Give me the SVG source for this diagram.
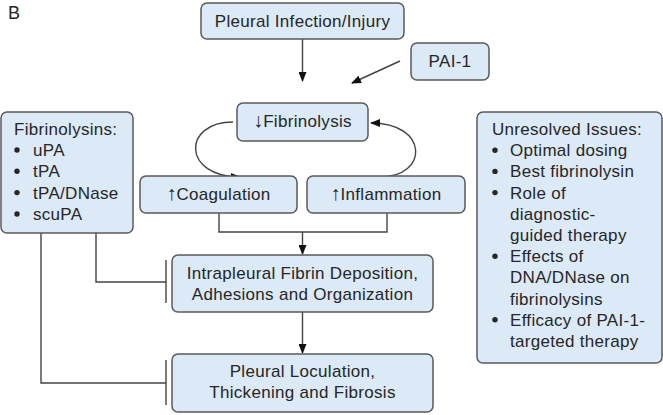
<svg xmlns="http://www.w3.org/2000/svg" width="663" height="415" viewBox="0 0 663 415">
<style>
.box{fill:#dce9f6;stroke:#5a5a5a;stroke-width:1.5}
text{font-family:"Liberation Sans",Arial,Helvetica,sans-serif;font-size:17px;fill:#262626;letter-spacing:0.3px}
.c{text-anchor:middle}
.ar{font-size:20px;letter-spacing:0}
.ln{fill:none;stroke:#444;stroke-width:1.4}
.bul{fill:#262626}
</style>
<defs>
<marker id="ah" markerWidth="10" markerHeight="8" refX="9" refY="4" orient="auto" markerUnits="userSpaceOnUse">
<path d="M0,0 L10,4 L0,8 z" fill="#111"/>
</marker>
</defs>
<rect width="663" height="415" fill="#fff"/>
<text x="8" y="19" style="font-size:18px">B</text>

<g id="connectors">
<line class="ln" x1="302.5" y1="39" x2="302.5" y2="81" marker-end="url(#ah)"/>
<line class="ln" x1="400" y1="61" x2="352" y2="83" marker-end="url(#ah)"/>
<path class="ln" d="M233,122 C182,122 182,177 240,177" marker-end="url(#ah)"/>
<path class="ln" d="M380,177 C429,177 429,123 371,123" marker-end="url(#ah)"/>
<polyline class="ln" points="219,213 219,232 387,232 387,213"/>
<line class="ln" x1="302.5" y1="232" x2="302.5" y2="254" marker-end="url(#ah)"/>
<line class="ln" x1="302.5" y1="312" x2="302.5" y2="353" marker-end="url(#ah)"/>
<polyline class="ln" points="96,233 96,282 166,282"/>
<line class="ln" x1="166" y1="260" x2="166" y2="303"/>
<polyline class="ln" points="41,233 41,383 166,383"/>
<line class="ln" x1="166" y1="360" x2="166" y2="405"/>
</g>

<g id="pleural-infection">
<rect class="box" x="201" y="3" width="203" height="36" rx="6"/>
<text class="c" x="302.5" y="27">Pleural Infection/Injury</text>
</g>
<g id="pai1">
<rect class="box" x="411" y="43" width="78" height="37" rx="6"/>
<text class="c" x="450" y="67">PAI-1</text>
</g>
<g id="fibrinolysis">
<rect class="box" x="237" y="103" width="131" height="38" rx="6"/>
<text class="c" x="302.5" y="127"><tspan class="ar">↓</tspan>Fibrinolysis</text>
</g>
<g id="coagulation">
<rect class="box" x="140" y="176" width="157" height="37" rx="6"/>
<text class="c" x="218.5" y="200"><tspan class="ar">↑</tspan>Coagulation</text>
</g>
<g id="inflammation">
<rect class="box" x="307" y="176" width="158" height="37" rx="6"/>
<text class="c" x="386" y="200"><tspan class="ar">↑</tspan>Inflammation</text>
</g>
<g id="intrapleural">
<rect class="box" x="172" y="255" width="261" height="57" rx="6"/>
<text class="c" x="302.5" y="279">Intrapleural Fibrin Deposition,</text>
<text class="c" x="302.5" y="300">Adhesions and Organization</text>
</g>
<g id="loculation">
<rect class="box" x="172" y="354" width="261" height="58" rx="6"/>
<text class="c" x="302.5" y="377">Pleural Loculation,</text>
<text class="c" x="302.5" y="398">Thickening and Fibrosis</text>
</g>
<g id="fibrinolysins">
<rect class="box" x="1" y="112" width="132" height="121" rx="6"/>
<text x="14" y="135">Fibrinolysins:</text>
<circle class="bul" cx="17" cy="150" r="2.7"/><text x="33" y="156">uPA</text>
<circle class="bul" cx="17" cy="171.3" r="2.7"/><text x="33" y="177.3">tPA</text>
<circle class="bul" cx="17" cy="192.6" r="2.7"/><text x="33" y="198.6">tPA/DNase</text>
<circle class="bul" cx="17" cy="214" r="2.7"/><text x="33" y="220">scuPA</text>
</g>
<g id="unresolved">
<rect class="box" x="477" y="112" width="185" height="251" rx="6"/>
<text x="492" y="135">Unresolved Issues:</text>
<circle class="bul" cx="495" cy="150.2" r="2.7"/><text x="510" y="156.2">Optimal dosing</text>
<circle class="bul" cx="495" cy="171.4" r="2.7"/><text x="510" y="177.4">Best fibrinolysin</text>
<circle class="bul" cx="495" cy="192.6" r="2.7"/><text x="510" y="198.6">Role of</text>
<text x="510" y="219.8">diagnostic-</text>
<text x="510" y="241">guided therapy</text>
<circle class="bul" cx="495" cy="256.2" r="2.7"/><text x="510" y="262.2">Effects of</text>
<text x="510" y="283.4">DNA/DNase on</text>
<text x="510" y="304.6">fibrinolysins</text>
<circle class="bul" cx="495" cy="319.8" r="2.7"/><text x="510" y="325.8">Efficacy of PAI-1-</text>
<text x="510" y="347">targeted therapy</text>
</g>
</svg>
